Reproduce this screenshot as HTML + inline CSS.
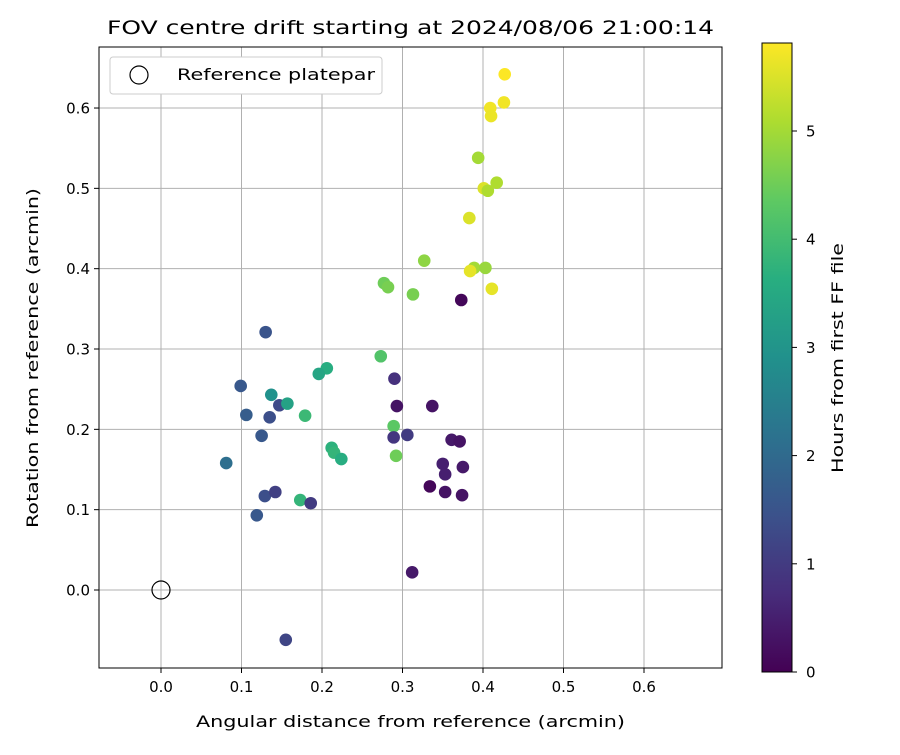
<!DOCTYPE html>
<html><head><meta charset="utf-8"><style>
body{margin:0;background:#fff}
svg text{font-family:"DejaVu Sans","Liberation Sans",sans-serif;fill:#000}
</style></head><body>
<svg id="chart" width="900" height="750" xmlns="http://www.w3.org/2000/svg">
<defs><linearGradient id="vir" x1="0" y1="1" x2="0" y2="0">
<stop offset="0" stop-color="#440154"/><stop offset="0.125" stop-color="#472d7b"/><stop offset="0.25" stop-color="#3b528b"/><stop offset="0.375" stop-color="#2c728e"/><stop offset="0.5" stop-color="#21918c"/><stop offset="0.625" stop-color="#28ae80"/><stop offset="0.75" stop-color="#5ec962"/><stop offset="0.875" stop-color="#addc30"/><stop offset="1" stop-color="#fde725"/></linearGradient></defs>
<text x="107" y="34" font-size="19" textLength="607" lengthAdjust="spacingAndGlyphs">FOV centre drift starting at 2024/08/06 21:00:14</text>
<g id="grid"></g><g id="pts"></g>
<rect x="99" y="47" width="623" height="621" fill="none" stroke="#000" stroke-width="1"/>
<text x="196" y="727" font-size="16" textLength="429" lengthAdjust="spacingAndGlyphs">Angular distance from reference (arcmin)</text>
<text transform="translate(38,528) rotate(-90)" font-size="16" textLength="340" lengthAdjust="spacingAndGlyphs">Rotation from reference (arcmin)</text>
<g>
<rect x="110" y="57" width="272" height="37" rx="3" fill="#fff" stroke="#ccc"/>
<circle cx="139" cy="75" r="9" fill="none" stroke="#000" stroke-width="1.2"/>
<text x="177" y="80" font-size="16" textLength="198" lengthAdjust="spacingAndGlyphs">Reference platepar</text></g>
<rect x="762" y="43" width="30" height="629" fill="url(#vir)" stroke="#000" stroke-width="1"/>
<g id="cbt"></g>
<text transform="translate(843,473) rotate(-90)" font-size="16" textLength="230" lengthAdjust="spacingAndGlyphs">Hours from first FF file</text>
</svg>
<script>
const xs=[.427,.409,.426,.410,.394,.417,.401,.406,.383,.389,.403,.384,.411,.327,.277,.282,.313,.373,.273,.290,.293,.337,.289,.289,.306,.361,.371,.292,.350,.375,.353,.334,.353,.374,.312,.206,.196,.130,.099,.137,.106,.135,.147,.157,.179,.125,.212,.215,.224,.081,.129,.142,.173,.186,.119,.155];
const ys=[.642,.600,.607,.590,.538,.507,.500,.497,.463,.401,.401,.397,.375,.410,.382,.377,.368,.361,.291,.263,.229,.229,.204,.190,.193,.187,.185,.167,.157,.153,.144,.129,.122,.118,.022,.276,.269,.321,.254,.243,.218,.215,.230,.232,.217,.192,.177,.171,.163,.158,.117,.122,.112,.108,.093,-.062];
const hours=[5.8,5.7,5.7,5.65,5.0,5.1,5.5,5.1,5.5,5.0,4.9,5.6,5.6,4.8,4.5,4.6,4.6,0.1,4.2,0.8,0.3,0.3,4.3,0.9,1.0,0.4,0.3,4.5,0.5,0.4,0.5,0.1,0.3,0.3,0.4,3.6,3.4,1.5,1.6,2.9,1.7,1.4,1.3,3.3,3.9,1.6,3.7,3.8,3.6,2.1,1.4,1.1,3.8,1.0,1.6,1.2];
const xTicks=[0,0.1,0.2,0.3,0.4,0.5,0.6];
const yTicks=[0,0.1,0.2,0.3,0.4,0.5,0.6];
const cTicks=[0,1,2,3,4,5];
const NS="http://www.w3.org/2000/svg",svg=document.getElementById('chart');
const X=v=>161+v*805, Y=v=>590-v*803.3, C=h=>672-h*108.2;
const vir=[[68,1,84],[71,45,123],[59,82,139],[44,114,142],[33,145,140],[40,174,128],[94,201,98],[173,220,48],[253,231,37]];
function col(h){let t=Math.max(0,Math.min(1,h/5.81))*8,i=Math.min(7,Math.floor(t)),f=t-i;return 'rgb('+vir[i].map((a,k)=>Math.round(a+(vir[i+1][k]-a)*f)).join(',')+')';}
function mk(t,a,p){const e=document.createElementNS(NS,t);for(const k in a)e.setAttribute(k,a[k]);p.appendChild(e);return e;}
const g=document.getElementById('grid');
xTicks.forEach(v=>{const x=X(v);
const l=mk('line',{x1:x,x2:x,y1:47,y2:668,stroke:'#b0b0b0','stroke-width':1},g);


mk('line',{x1:x,x2:x,y1:668,y2:673,stroke:'#000'},g);
const t=mk('text',{x:x,y:692,'font-size':15,'text-anchor':'middle'},g);t.textContent=v.toFixed(1);

});
yTicks.forEach(v=>{const y=Y(v);
const l=mk('line',{x1:99,x2:722,y1:y,y2:y,stroke:'#b0b0b0','stroke-width':1},g);


mk('line',{x1:94,x2:99,y1:y,y2:y,stroke:'#000'},g);
const t=mk('text',{x:90,y:y+5.5,'font-size':15,'text-anchor':'end'},g);t.textContent=v.toFixed(1);

});
const c=document.getElementById('cbt');
cTicks.forEach(v=>{const y=C(v);mk('line',{x1:792,x2:797,y1:y,y2:y,stroke:'#000'},c);
const t=mk('text',{x:806,y:y+5.5,'font-size':15},c);t.textContent=v;

});
const p=document.getElementById('pts');
xs.forEach((v,i)=>{const e=mk('circle',{cx:X(v),cy:Y(ys[i]),r:6.3,fill:col(hours[i])},p);

});
const r=mk('circle',{cx:X(0),cy:Y(0),r:9,fill:'none',stroke:'#000','stroke-width':1.2},p);


</script>
</body></html>
